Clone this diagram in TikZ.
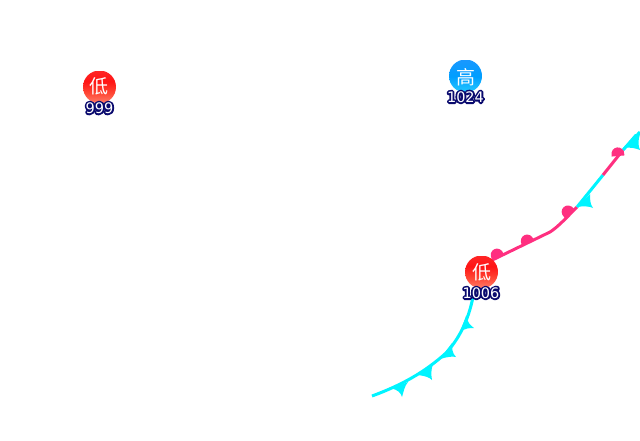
\documentclass[tikz,border=0pt]{standalone}
\usepackage{fontspec}
\setmainfont{DejaVu Sans}
\newfontfamily\cjk{Noto Sans CJK SC}
\definecolor{coldc}{HTML}{00F4FF}
\definecolor{warmc}{HTML}{FF2F80}
\newcommand{\pressurelabel}[1]{\rlap{\special{pdf:code q 1 Tr 3.6 w 1 j 0.04 0.04 0.43 RG}#1\special{pdf:code Q}}\textcolor{white}{#1}}
\newcommand{\warmbump}[3]{\fill[bump,shift={(#1,#2)},rotate=#3] (-6.5,0) .. controls (-7.5,-11.5) and (7.5,-11.5) .. (6.5,0) -- cycle;}
\tikzset{
  x=1pt,y=-1pt,
  coldline/.style={draw=coldc,line width=3pt,line join=round},
  warmline/.style={draw=warmc,line width=3pt,line join=round},
  barb/.style={fill=coldc,draw=none},
  bump/.style={fill=warmc,draw=none},
  symb/.style={circle,minimum size=33pt,inner sep=0pt},
  symbtext/.style={text=white,inner sep=0pt,font=\cjk\fontsize{19}{19}\selectfont},
  presslabel/.style={inner sep=0pt,font=\fontsize{14.5}{15}\selectfont}
}
\pgfdeclareverticalshading{lowv}{33bp}{color(0bp)=(red!50!white!85!orange);color(10bp)=(red!75!white!85!orange);color(22bp)=(red!92!white);color(33bp)=(red!85!white)}
\pgfdeclareverticalshading{highv}{33bp}{color(0bp)=(cyan!75!blue!85!white);color(16bp)=(cyan!62!blue);color(33bp)=(cyan!55!blue!90!white)}
\begin{document}
\begin{tikzpicture}
\useasboundingbox (0,0) rectangle (640,440);
\fill[white] (0,0) rectangle (640,440);
% lower cold front
\draw[coldline] (372,396) .. controls (402,385) and (425,372) .. (446,353) .. controls (458,340) and (468,322) .. (473,297);
\fill[barb] (392,388.5) .. controls (398,390) and (401,393) .. (402,397) .. controls (404,391) and (404,387) .. (408,382) -- cycle;
\fill[barb] (418,375) .. controls (425,376) and (429,377) .. (432,380) .. controls (431,374) and (431,370) .. (433,364) -- cycle;
\fill[barb] (440,359) .. controls (447,357) and (452,356) .. (456,357) .. controls (452,353) and (452,348) .. (452,343) -- cycle;
\fill[barb] (460,332) .. controls (465,328) and (470,328) .. (474,328) .. controls (470,325) and (468,323) .. (466,316) -- cycle;
% warm and cold sections
\draw[warmline] (482,265) -- (550,232) .. controls (558,227) and (567,217) .. (577,207);
\draw[coldline] (577,207) -- (603,175);
\draw[warmline] (603,175) -- (623,150);
\draw[coldline] (623,150) -- (640,132);
\warmbump{498}{257}{25}
\warmbump{528}{243}{22}
\warmbump{569.5}{213.5}{42}
\warmbump{618}{156}{5}
\fill[barb] (577,207) .. controls (583,206) and (589,206) .. (593,208) .. controls (590,204) and (590,199) .. (590,194) -- cycle;
\fill[barb] (623,148) .. controls (630,147) and (635,148) .. (640,150) .. controls (638,146) and (638,140) .. (640,134) -- (635,134) -- cycle;
% symbols
\node[symb,path picture={\pgftext[at=\pgfpoint{0pt}{0pt}]{\pgfuseshading{lowv}}}] (low1) at (99.5,87) {};
\node[symb,path picture={\pgftext[at=\pgfpoint{0pt}{0pt}]{\pgfuseshading{highv}}}] (high) at (465.5,76) {};
\node[symb,path picture={\pgftext[at=\pgfpoint{0pt}{0pt}]{\pgfuseshading{lowv}}}] (low2) at (481.5,272) {};
\node[symbtext] (low1t) at (99,86) {低};
\node[symbtext] (hight) at (465.5,77) {高};
\node[symbtext] (low2t) at (481.5,272) {低};
\node[presslabel] (p1) at (99.5,108) {\pressurelabel{999}};
\node[presslabel] (p2) at (465.5,97) {\pressurelabel{1024}};
\node[presslabel] (p3) at (481,293) {\pressurelabel{1006}};
\end{tikzpicture}
\end{document}
